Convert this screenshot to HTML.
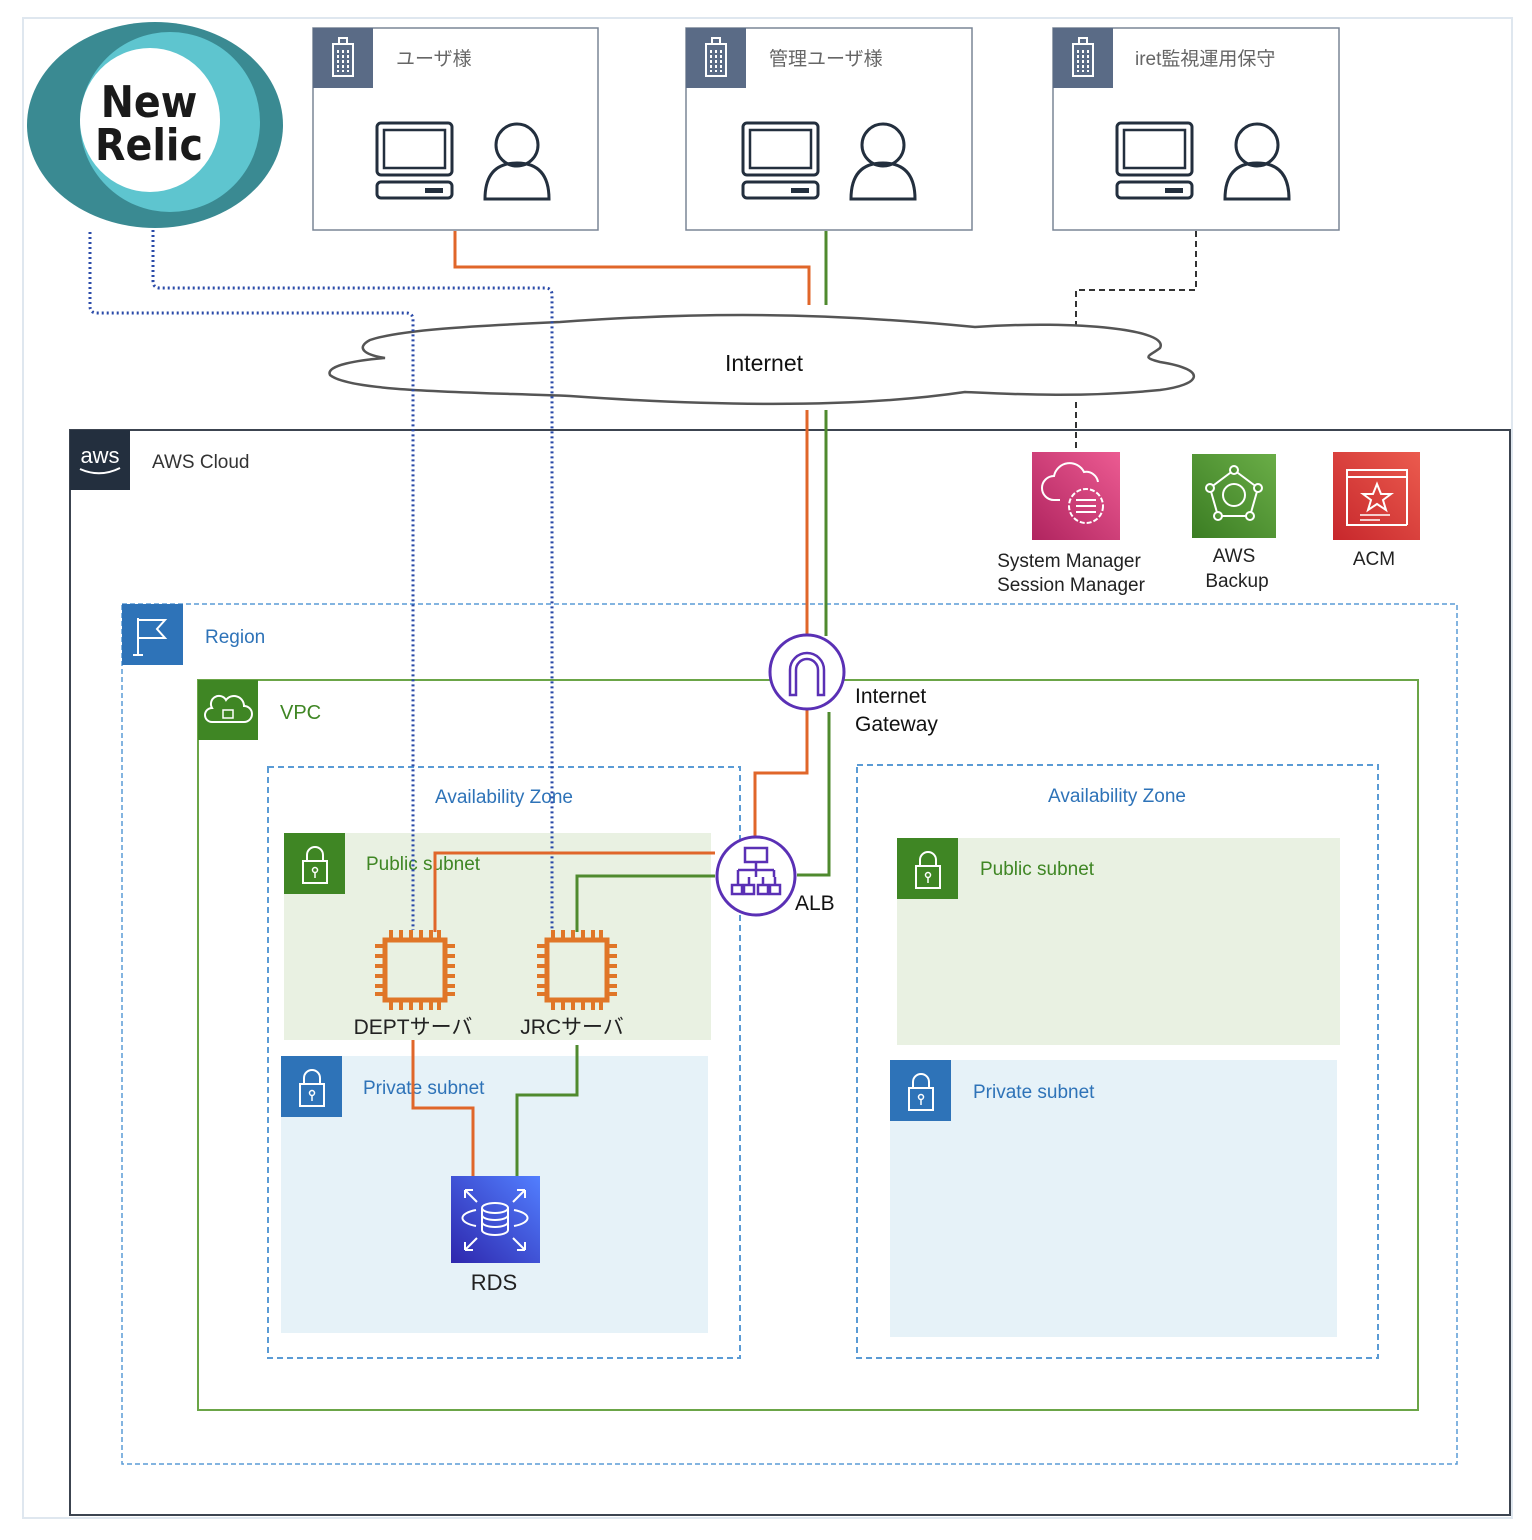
<!DOCTYPE html>
<html><head><meta charset="utf-8"><style>
html,body{margin:0;padding:0;background:#fff;}
svg{display:block;font-family:"Liberation Sans","Noto Sans CJK JP",sans-serif;}
</style></head><body>
<svg width="1532" height="1540" viewBox="0 0 1532 1540" xmlns="http://www.w3.org/2000/svg">
<defs>
  <g id="pc">
    <rect x="0" y="0" width="75" height="52" rx="4" fill="none" stroke="#232f3e" stroke-width="3"/>
    <rect x="7" y="7" width="61" height="38" fill="none" stroke="#232f3e" stroke-width="2.5"/>
    <rect x="0" y="59" width="75" height="16" rx="4" fill="none" stroke="#232f3e" stroke-width="3"/>
    <rect x="48" y="65" width="18" height="5" fill="#232f3e"/>
  </g>
  <g id="person">
    <circle cx="34" cy="22" r="21" fill="none" stroke="#232f3e" stroke-width="3"/>
    <path d="M2 76 Q2 40 34 40 Q66 40 66 76 Z" fill="none" stroke="#232f3e" stroke-width="3"/>
  </g>
  <g id="bld">
    <rect x="0" y="0" width="60" height="60" fill="#5a6b86"/>
    <rect x="20" y="16" width="20" height="32" fill="none" stroke="#fff" stroke-width="2"/>
    <rect x="26" y="10" width="8" height="6" fill="none" stroke="#fff" stroke-width="2"/>
    <path d="M25 22v22M30 22v22M35 22v22" stroke="#fff" stroke-width="2" stroke-dasharray="3 2"/>
  </g>
  <g id="chip">
    <rect x="10" y="10" width="60" height="60" fill="none" stroke="#e07628" stroke-width="5"/>
    <path d="M16 0v10M26 0v10M36 0v10M46 0v10M56 0v10M64 0v10 M16 70v10M26 70v10M36 70v10M46 70v10M56 70v10M64 70v10 M0 16h10M0 26h10M0 36h10M0 46h10M0 56h10M0 64h10 M70 16h10M70 26h10M70 36h10M70 46h10M70 56h10M70 64h10" stroke="#e07628" stroke-width="4"/>
  </g>
  <g id="lockg">
    <rect x="19" y="28" width="24" height="22" fill="none" stroke="#fff" stroke-width="2"/>
    <path d="M23 28v-6a8 8 0 0 1 16 0v6" fill="none" stroke="#fff" stroke-width="2"/>
    <circle cx="31" cy="37" r="2.5" fill="none" stroke="#fff" stroke-width="1.5"/>
    <path d="M31 40v5" stroke="#fff" stroke-width="1.5"/>
  </g>
  <linearGradient id="gp" x1="0" y1="1" x2="1" y2="0"><stop offset="0" stop-color="#b0245f"/><stop offset="1" stop-color="#ec5b92"/></linearGradient>
  <linearGradient id="gg" x1="0" y1="1" x2="1" y2="0"><stop offset="0" stop-color="#3b7d23"/><stop offset="1" stop-color="#6aad47"/></linearGradient>
  <linearGradient id="gr" x1="0" y1="1" x2="1" y2="0"><stop offset="0" stop-color="#c7272c"/><stop offset="1" stop-color="#eb5b4e"/></linearGradient>
  <linearGradient id="gb" x1="0" y1="1" x2="1" y2="0"><stop offset="0" stop-color="#2e27ad"/><stop offset="1" stop-color="#527fff"/></linearGradient>
</defs>

<rect x="23" y="18" width="1489" height="1500" fill="none" stroke="#dfe7ef" stroke-width="2"/>

<ellipse cx="155" cy="125" rx="128" ry="103" fill="#3a8a92"/>
<ellipse cx="170" cy="122" rx="90" ry="90" fill="#5ec5cf"/>
<ellipse cx="150" cy="120" rx="70" ry="72" fill="#fff"/>
<text x="149" y="117" font-size="44" font-weight="bold" text-anchor="middle" fill="#1a1a1a" font-family="DejaVu Sans Condensed,DejaVu Sans,sans-serif">New</text>
<text x="149" y="160" font-size="44" font-weight="bold" text-anchor="middle" fill="#1a1a1a" font-family="DejaVu Sans Condensed,DejaVu Sans,sans-serif">Relic</text>

<g>
  <rect x="313" y="28" width="285" height="202" fill="#fff" stroke="#7a8596" stroke-width="1.5"/>
  <use href="#bld" x="313" y="28"/>
  <text x="396" y="65" font-size="19" fill="#666">ユーザ様</text>
  <use href="#pc" x="377" y="123"/><use href="#person" x="483" y="123"/>
</g>
<g>
  <rect x="686" y="28" width="286" height="202" fill="#fff" stroke="#7a8596" stroke-width="1.5"/>
  <use href="#bld" x="686" y="28"/>
  <text x="769" y="65" font-size="19" fill="#666">管理ユーザ様</text>
  <use href="#pc" x="743" y="123"/><use href="#person" x="849" y="123"/>
</g>
<g>
  <rect x="1053" y="28" width="286" height="202" fill="#fff" stroke="#7a8596" stroke-width="1.5"/>
  <use href="#bld" x="1053" y="28"/>
  <text x="1135" y="65" font-size="19" fill="#666">iret監視運用保守</text>
  <use href="#pc" x="1117" y="123"/><use href="#person" x="1223" y="123"/>
</g>

<path d="M455 231V267H809V305" fill="none" stroke="#e0662a" stroke-width="3"/>
<path d="M826 231V305" fill="none" stroke="#4f8a2e" stroke-width="3"/>
<path d="M1196 231V290H1076V335" fill="none" stroke="#333" stroke-width="2" stroke-dasharray="6 4"/>

<rect x="70" y="430" width="1440" height="1085" fill="#fff" stroke="#3c4450" stroke-width="2"/>
<path d="M1076 402V452" fill="none" stroke="#333" stroke-width="2" stroke-dasharray="6 4"/>
<rect x="70" y="430" width="60" height="60" fill="#232f3e"/>
<text x="100" y="463" font-size="22" fill="#fff" text-anchor="middle">aws</text>
<path d="M80 469 Q100 478 120 468" fill="none" stroke="#fff" stroke-width="2"/>
<text x="152" y="468" font-size="19" fill="#333">AWS Cloud</text>

<path d="M560 322 C700 312 820 312 975 327 C1080 320 1170 330 1160 348 C1150 356 1140 357 1160 362 C1210 370 1200 385 1160 390 C1080 398 1010 394 965 392 C870 406 740 408 570 396 C470 392 350 392 330 375 C325 365 360 360 385 358 C365 355 355 348 370 340 C400 330 470 326 560 322 Z" fill="#fff" stroke="#555" stroke-width="2.5"/>
<text x="764" y="371" font-size="23" text-anchor="middle" fill="#111">Internet</text>

<rect x="122" y="604" width="1335" height="860" fill="none" stroke="#5a9bd5" stroke-width="1.5" stroke-dasharray="5 3"/>
<rect x="122" y="604" width="61" height="61" fill="#2e73b8"/>
<path d="M138 655V618M138 620H165L157 629L165 638H138M133 655H143" fill="none" stroke="#fff" stroke-width="2"/>
<text x="205" y="643" font-size="19" fill="#2e73b8">Region</text>

<rect x="198" y="680" width="1220" height="730" fill="none" stroke="#6ba547" stroke-width="2"/>
<rect x="198" y="680" width="60" height="60" fill="#3f8624"/>
<path d="M212 722h32a8 8 0 0 0 0-16a10 10 0 0 0-18-6a8 8 0 0 0-14 8a7 7 0 0 0 0 14z" fill="none" stroke="#fff" stroke-width="2"/>
<rect x="223" y="710" width="10" height="8" fill="none" stroke="#fff" stroke-width="1.5"/>
<text x="280" y="719" font-size="20" fill="#3f8624">VPC</text>

<rect x="268" y="767" width="472" height="591" fill="none" stroke="#5a9bd5" stroke-width="2" stroke-dasharray="6 4"/>
<text x="504" y="803" font-size="19" fill="#2e73b8" text-anchor="middle">Availability Zone</text>
<rect x="857" y="765" width="521" height="593" fill="none" stroke="#5a9bd5" stroke-width="2" stroke-dasharray="6 4"/>
<text x="1117" y="802" font-size="19" fill="#2e73b8" text-anchor="middle">Availability Zone</text>

<rect x="284" y="833" width="427" height="207" fill="#e9f1e2"/>
<rect x="284" y="833" width="61" height="61" fill="#3f8624"/><use href="#lockg" x="284" y="833"/>
<text x="366" y="870" font-size="19" fill="#3f8624">Public subnet</text>
<rect x="281" y="1056" width="427" height="277" fill="#e6f2f8"/>
<rect x="281" y="1056" width="61" height="61" fill="#2e73b8"/><use href="#lockg" x="281" y="1056"/>
<text x="363" y="1094" font-size="19" fill="#2e73b8">Private subnet</text>
<rect x="897" y="838" width="443" height="207" fill="#e9f1e2"/>
<rect x="897" y="838" width="61" height="61" fill="#3f8624"/><use href="#lockg" x="897" y="838"/>
<text x="980" y="875" font-size="19" fill="#3f8624">Public subnet</text>
<rect x="890" y="1060" width="447" height="277" fill="#e6f2f8"/>
<rect x="890" y="1060" width="61" height="61" fill="#2e73b8"/><use href="#lockg" x="890" y="1060"/>
<text x="973" y="1098" font-size="19" fill="#2e73b8">Private subnet</text>

<rect x="1032" y="452" width="88" height="88" fill="url(#gp)"/>
<path d="M1060 500h-6a12 12 0 0 1 0-24a16 16 0 0 1 30-4a12 12 0 0 1 14 10" fill="none" stroke="#fff" stroke-width="2"/>
<circle cx="1086" cy="506" r="17" fill="none" stroke="#fff" stroke-width="2" stroke-dasharray="5 2"/>
<path d="M1076 500h20M1076 506h20M1076 512h20" stroke="#fff" stroke-width="2"/>
<rect x="1192" y="454" width="84" height="84" fill="url(#gg)"/>
<path d="M1234 470L1258 488L1250 516H1218L1210 488Z" fill="none" stroke="#fff" stroke-width="2"/>
<circle cx="1234" cy="495" r="11" fill="none" stroke="#fff" stroke-width="2"/>
<circle cx="1234" cy="470" r="4" fill="url(#gg)" stroke="#fff" stroke-width="2"/>
<circle cx="1258" cy="488" r="4" fill="url(#gg)" stroke="#fff" stroke-width="2"/>
<circle cx="1210" cy="488" r="4" fill="url(#gg)" stroke="#fff" stroke-width="2"/>
<circle cx="1250" cy="516" r="4" fill="url(#gg)" stroke="#fff" stroke-width="2"/>
<circle cx="1218" cy="516" r="4" fill="url(#gg)" stroke="#fff" stroke-width="2"/>
<rect x="1333" y="452" width="87" height="88" fill="url(#gr)"/>
<path d="M1407 525V470H1347V525H1407M1347 477H1407" fill="none" stroke="#fff" stroke-width="2"/>
<path d="M1377 484L1381 494L1391 494L1383 500L1386 510L1377 504L1368 510L1371 500L1363 494L1373 494Z" fill="none" stroke="#fff" stroke-width="2"/>
<path d="M1360 515h30M1360 520h20" stroke="#fff" stroke-width="1.5"/>
<g font-size="19" fill="#222" text-anchor="middle">
<text x="1069" y="567">System Manager</text>
<text x="1071" y="591">Session Manager</text>
<text x="1234" y="562">AWS</text>
<text x="1237" y="587">Backup</text>
<text x="1374" y="565">ACM</text>
</g>

<path d="M90 232V306Q90 313 97 313H406Q413 313 413 320V930" fill="none" stroke="#2a4aa8" stroke-width="3" stroke-dasharray="2 3"/>
<path d="M153 230V281Q153 288 160 288H545Q552 288 552 295V930" fill="none" stroke="#2a4aa8" stroke-width="3" stroke-dasharray="2 3"/>

<path d="M807 410V636" stroke="#e0662a" stroke-width="3"/>
<path d="M826 410V636" stroke="#4f8a2e" stroke-width="3"/>
<path d="M807 710V773H755V838" fill="none" stroke="#e0662a" stroke-width="3"/>
<path d="M829 712V875H797" fill="none" stroke="#4f8a2e" stroke-width="3"/>
<path d="M715 853H435V932" fill="none" stroke="#e0662a" stroke-width="3"/>
<path d="M715 876H577V932" fill="none" stroke="#4f8a2e" stroke-width="3"/>
<path d="M413 1040V1108H473V1176" fill="none" stroke="#e0662a" stroke-width="3"/>
<path d="M577 1045V1095H517V1176" fill="none" stroke="#4f8a2e" stroke-width="3"/>

<circle cx="807" cy="672" r="37" fill="#fff" stroke="#5a30b5" stroke-width="3"/>
<path d="M790 695V670a17 17 0 0 1 34 0V695H818V670a11 11 0 0 0-22 0V695Z" fill="none" stroke="#5a30b5" stroke-width="2.5"/>
<text x="855" y="703" font-size="21" fill="#111">Internet</text>
<text x="855" y="731" font-size="21" fill="#111">Gateway</text>

<circle cx="756" cy="876" r="39" fill="#fff" stroke="#5a30b5" stroke-width="3"/>
<g fill="none" stroke="#5a30b5" stroke-width="2.5">
<rect x="745" y="848" width="22" height="14"/>
<path d="M756 862v8M738 870h36M738 870v7M756 870v7M774 870v7"/>
<rect x="732" y="885" width="10" height="9"/><rect x="744" y="885" width="10" height="9"/>
<rect x="758" y="885" width="10" height="9"/><rect x="770" y="885" width="10" height="9"/>
<path d="M738 877v8M749 877v8M763 877v8M775 877v8"/>
</g>
<text x="795" y="910" font-size="21" fill="#111">ALB</text>

<use href="#chip" x="375" y="930"/>
<use href="#chip" x="537" y="930"/>
<text x="413" y="1034" font-size="21" fill="#222" text-anchor="middle">DEPTサーバ</text>
<text x="572" y="1034" font-size="21" fill="#222" text-anchor="middle">JRCサーバ</text>

<rect x="451" y="1176" width="89" height="87" fill="url(#gb)"/>
<g fill="none" stroke="#fff" stroke-width="2">
<ellipse cx="495" cy="1208" rx="13" ry="5"/>
<path d="M482 1208v22a13 5 0 0 0 26 0v-22M482 1215a13 5 0 0 0 26 0M482 1222a13 5 0 0 0 26 0"/>
<path d="M476 1210a25 9 0 0 0 0 16M514 1210a25 9 0 0 1 0 16"/>
<path d="M465 1190l12 12M465 1190h8M465 1190v8 M525 1190l-12 12M525 1190h-8M525 1190v8 M465 1250l12-12M465 1250h8M465 1250v-8 M525 1250l-12-12M525 1250h-8M525 1250v-8"/>
</g>
<text x="494" y="1290" font-size="22" fill="#222" text-anchor="middle">RDS</text>
</svg>
</body></html>
